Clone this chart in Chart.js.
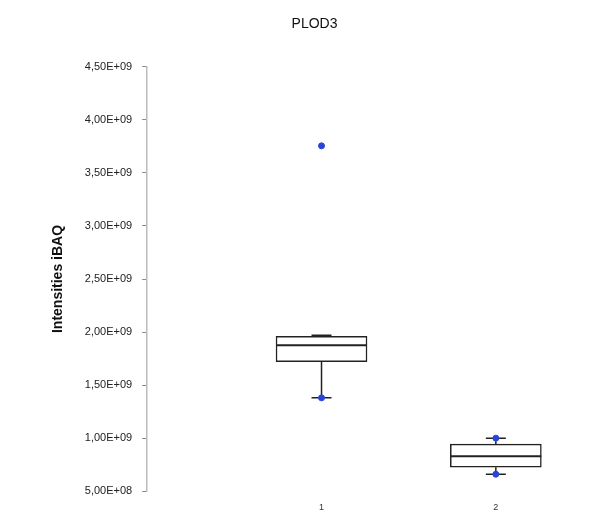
<!DOCTYPE html>
<html>
<head>
<meta charset="utf-8">
<script src="https://cdn.jsdelivr.net/npm/chart.js@4.4.1/dist/chart.umd.min.js"></script>
<style>
  html, body { margin: 0; padding: 0; background: #fff; }
  #wrap { width: 600px; height: 516px; }
</style>
</head>
<body>
<div id="wrap"><canvas id="boxChart"></canvas></div>
<script>
// values
const categories = ['1', '2'];
const mins = [1.38e9, 6.6e8];
const q1s = [1.72e9, 7.26e8];
const medians = [1.875e9, 8.3e8];
const q3s = [1.96e9, 9.43e8];
const maxs = [1.97e9, 1.0e9];
const dots = [[1.38e9, 3.755e9], [1.0e9, 6.6e8]];

const yMin = 5e8;
const yMax = 4.5e9;
const yStep = 5e8;

const fmtSci = (v) => {
    const [m, e] = v.toExponential(2).split('e');
    const sign = e[0] === '-' ? '-' : '+';
    const ex = e.replace(/[+-]/, '').padStart(2, '0');
    return m.replace('.', ',') + 'E' + sign + ex;
};

// whiskers behind the boxes, medians on top
const boxPlugin = {
    id: 'boxParts',
    beforeDatasetsDraw(chart) {
        const { ctx, scales: { x, y } } = chart;
        ctx.save();
        ctx.strokeStyle = '#222';
        ctx.lineWidth = 1.5;
        categories.forEach((c, i) => {
            const px = x.getPixelForValue(i + 1);
            ctx.beginPath();
            ctx.moveTo(px, y.getPixelForValue(q3s[i]));
            ctx.lineTo(px, y.getPixelForValue(maxs[i]));
            ctx.moveTo(px, y.getPixelForValue(q1s[i]));
            ctx.lineTo(px, y.getPixelForValue(mins[i]));
            ctx.moveTo(px - 10, y.getPixelForValue(maxs[i]));
            ctx.lineTo(px + 10, y.getPixelForValue(maxs[i]));
            ctx.moveTo(px - 10, y.getPixelForValue(mins[i]));
            ctx.lineTo(px + 10, y.getPixelForValue(mins[i]));
            ctx.stroke();
        });
        ctx.restore();
    },
    afterDatasetDraw(chart, args) {
        if (args.index !== 0) return;
        const { ctx, scales: { x, y } } = chart;
        const bar = chart.getDatasetMeta(0).data;
        ctx.save();
        ctx.strokeStyle = '#222';
        ctx.lineWidth = 2;
        categories.forEach((c, i) => {
            const w = bar[i].width / 2;
            const px = x.getPixelForValue(i + 1);
            const py = y.getPixelForValue(medians[i]);
            ctx.beginPath();
            ctx.moveTo(px - w, py);
            ctx.lineTo(px + w, py);
            ctx.stroke();
        });
        ctx.restore();
    }
};

const dotData = [];
dots.forEach((list, i) => list.forEach(v => dotData.push({ x: i + 1, y: v })));

new Chart(document.getElementById('boxChart'), {
    type: 'bar',
    data: {
        datasets: [{
            type: 'bar',
            data: categories.map((c, i) => ({ x: i + 1, y: [q1s[i], q3s[i]] })),
            backgroundColor: '#fff',
            borderColor: '#222',
            borderWidth: 1.5,
            borderSkipped: false,
            barThickness: 91,
            order: 2
        }, {
            type: 'scatter',
            data: dotData,
            pointStyle: 'circle',
            pointRadius: 3,
            backgroundColor: '#2a44d8',
            borderColor: '#2a44d8',
            order: 1
        }]
    },
    options: {
        responsive: true,
        maintainAspectRatio: false,
        animation: false,
        layout: { padding: { left: 46, right: 17, top: 6, bottom: 0 } },
        plugins: {
            legend: { display: false },
            tooltip: { enabled: false },
            title: {
                display: true,
                text: 'PLOD3',
                color: '#111',
                font: { family: 'Liberation Sans', size: 14, weight: 'normal' },
                padding: { top: 10, bottom: 34 }
            }
        },
        scales: {
            x: {
                type: 'linear',
                offset: false,
                min: 0,
                max: 2.5,
                afterBuildTicks: (axis) => {
                    axis.ticks = categories.map((c, i) => ({ value: i + 1 }));
                },
                ticks: {
                    callback: (v) => categories[v - 1],
                    color: '#333',
                    font: { family: 'Liberation Sans', size: 9 },
                    maxRotation: 0
                },
                grid: { display: false },
                border: { display: false }
            },
            y: {
                min: yMin,
                max: yMax,
                ticks: {
                    stepSize: yStep,
                    callback: (v) => fmtSci(v),
                    color: '#222',
                    font: { family: 'Liberation Sans', size: 11 },
                    padding: 10
                },
                grid: { drawOnChartArea: false, tickLength: 5, color: '#888' },
                border: { color: '#bbb', width: 1.5 },
                title: {
                    display: true,
                    text: 'Intensities iBAQ',
                    color: '#111',
                    font: { family: 'Liberation Sans', size: 14, weight: 'bold' },
                    padding: { bottom: 8 }
                }
            }
        }
    },
    plugins: [boxPlugin]
});
</script>
</body>
</html>
